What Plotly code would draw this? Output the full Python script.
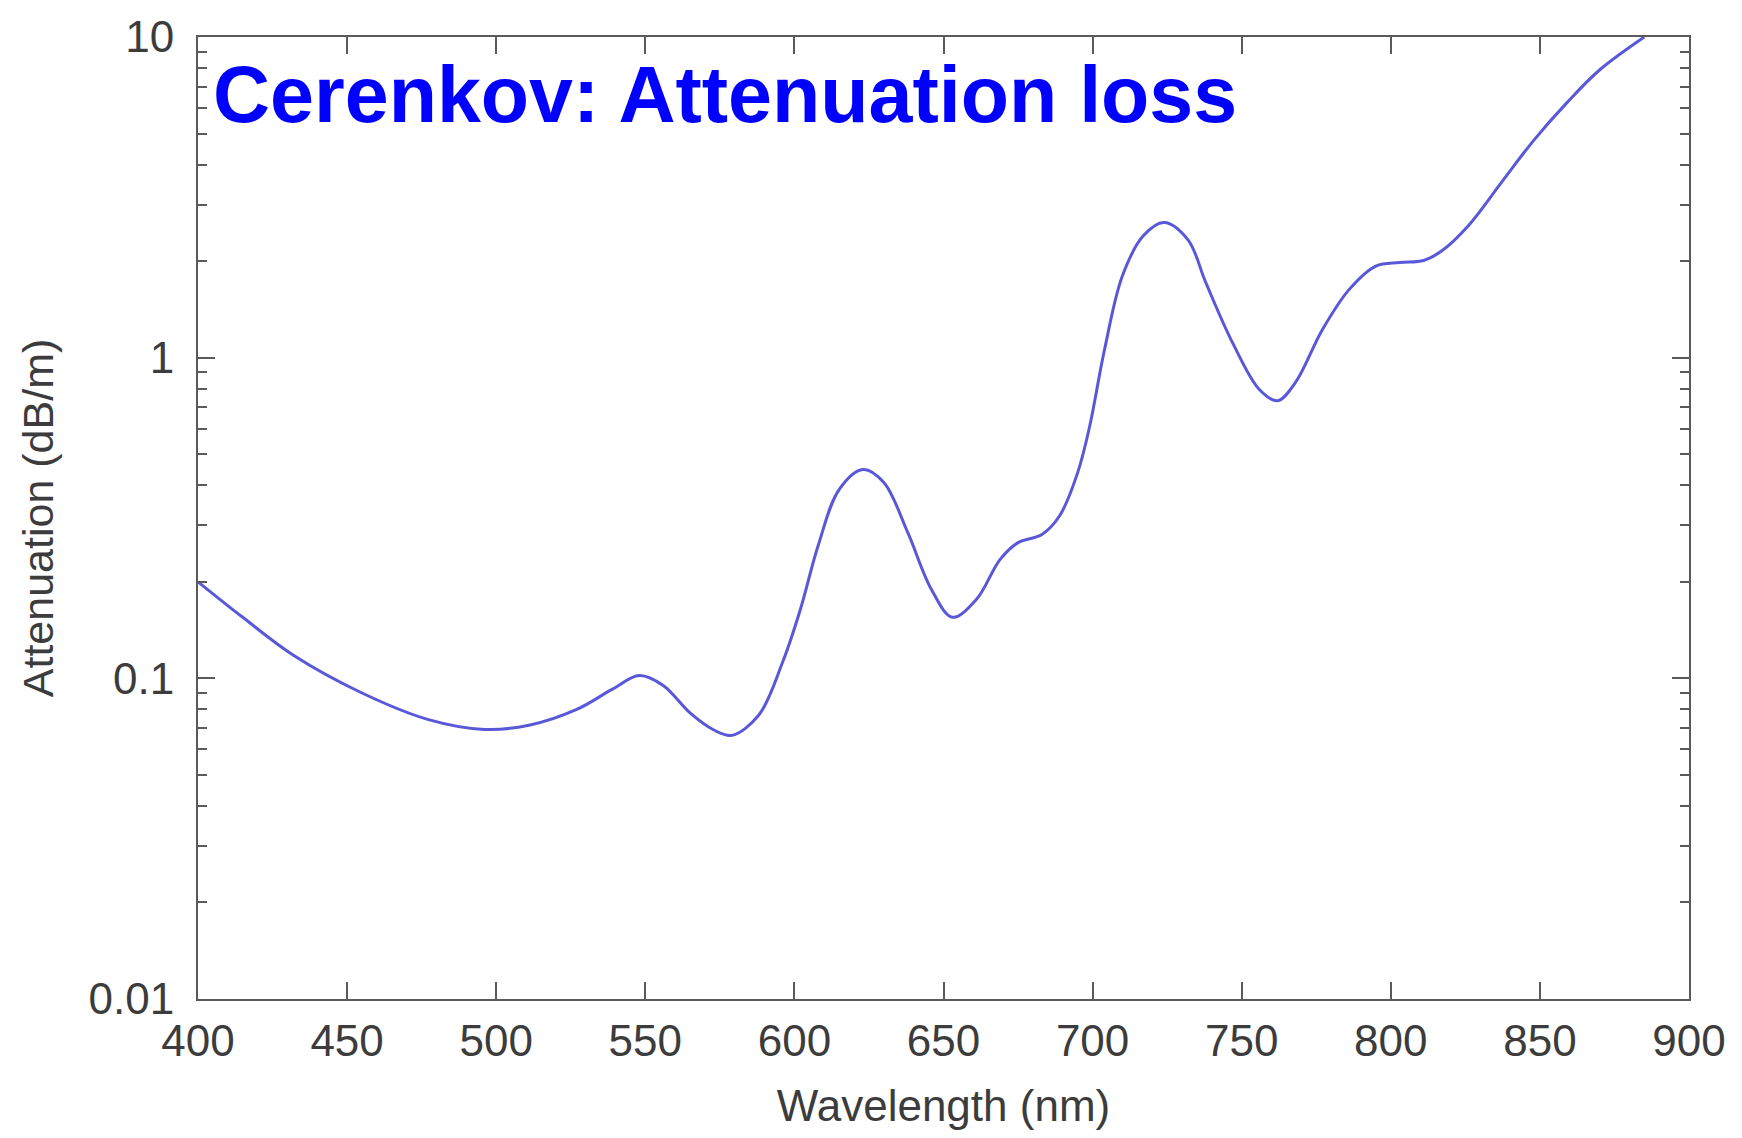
import plotly.graph_objects as go

# Attenuation spectrum of the fibre (wavelength in nm, attenuation in dB/m)
wavelength_nm = [400, 415, 432, 455, 477, 496, 511, 527, 539, 548, 556, 565, 573,
                 579, 588, 596, 602, 608, 615, 623, 630, 638, 646, 653, 661, 669,
                 675, 683, 689, 695, 699, 704, 710, 717, 724, 732, 738, 747, 756,
                 762, 768, 777, 786, 795, 803, 811, 817, 826, 837, 848, 859, 870, 885]
attenuation_db_m = [0.20, 0.155, 0.118, 0.090, 0.0745, 0.0693, 0.0714, 0.080, 0.0925,
                    0.102, 0.095, 0.078, 0.069, 0.0664, 0.0767, 0.112, 0.164, 0.26,
                    0.388, 0.448, 0.408, 0.285, 0.189, 0.155, 0.176, 0.235, 0.265,
                    0.281, 0.322, 0.438, 0.61, 1.06, 1.80, 2.40, 2.64, 2.33, 1.71,
                    1.11, 0.794, 0.734, 0.836, 1.22, 1.63, 1.93, 1.98, 2.01, 2.15,
                    2.58, 3.51, 4.77, 6.23, 7.89, 10.0]

x_ticks = [400, 450, 500, 550, 600, 650, 700, 750, 800, 850, 900]
y_ticks = [0.01, 0.1, 1, 10]
y_tick_text = ["0.01", "0.1", "1", "10"]

title_text = "Cerenkov: Attenuation loss"
x_title = "Wavelength (nm)"
y_title = "Attenuation (dB/m)"

axis_color = "#5a5a5a"
label_color = "#3c3c3c"
font_family = "Liberation Sans, Arial, sans-serif"

fig = go.Figure()
fig.add_trace(go.Scatter(
    x=wavelength_nm, y=attenuation_db_m, mode="lines",
    line=dict(color="#5858d8", width=3, shape="spline", smoothing=1.0),
    showlegend=False, cliponaxis=True,
))

fig.update_layout(
    width=1742, height=1138,
    margin=dict(l=198, r=53, t=34, b=139),
    paper_bgcolor="white", plot_bgcolor="white",
    font=dict(family=font_family, color=label_color),
    annotations=[dict(
        text=f"<b>{title_text}</b>", xref="paper", yref="paper",
        x=0.009, y=0.94, xanchor="left", yanchor="middle",
        showarrow=False, font=dict(size=79, color="#0000ff", family=font_family),
    )],
)

fig.update_xaxes(
    range=[400, 900], tickvals=x_ticks,
    showline=True, linecolor=axis_color, linewidth=2, mirror="ticks",
    ticks="inside", ticklen=17, tickwidth=2, tickcolor=axis_color,
    showgrid=False, zeroline=False,
    tickfont=dict(size=44, color=label_color), ticklabelstandoff=2,
    title=dict(text=x_title, font=dict(size=44, color=label_color), standoff=26),
)

fig.update_yaxes(
    type="log", range=[-2, 1], tickvals=y_ticks, ticktext=y_tick_text,
    showline=True, linecolor=axis_color, linewidth=2, mirror="ticks",
    ticks="inside", ticklen=17, tickwidth=2, tickcolor=axis_color,
    minor=dict(ticks="inside", ticklen=9, tickwidth=2, tickcolor=axis_color,
               dtick="D1", showgrid=False),
    showgrid=False, zeroline=False,
    tickfont=dict(size=44, color=label_color), ticklabelstandoff=13,
    title=dict(text=y_title, font=dict(size=43, color=label_color), standoff=22),
)

fig.write_html("out.html")
